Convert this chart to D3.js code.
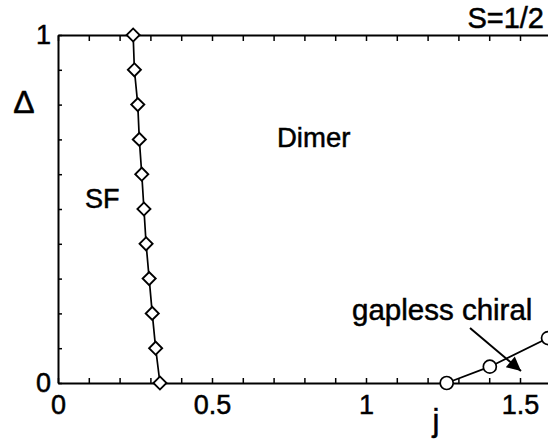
<!DOCTYPE html>
<html>
<head>
<meta charset="utf-8">
<script src="https://cdn.jsdelivr.net/npm/d3@7"></script>
<style>
  html, body { margin: 0; padding: 0; background: #fff; }
  svg { display: block; }
  text { font-family: "Liberation Sans", Arial, Helvetica, sans-serif; fill: #000; stroke: #000; stroke-width: 0.5px; }
</style>
</head>
<body>
<svg id="chart" width="548" height="447"></svg>
<script>
// ---- data ----
const sfDelta = [1.0, 0.9, 0.8, 0.7, 0.6, 0.5, 0.4, 0.3, 0.2, 0.1, 0.0];
const sfJ     = [0.244, 0.248, 0.259, 0.264, 0.272, 0.279, 0.286, 0.296, 0.306, 0.317, 0.331];
const chiralJ     = [1.262, 1.402, 1.591];
const chiralDelta = [0.0, 0.047, 0.129];
const xTickLabels = [0, 0.5, 1, 1.5];
const yTickLabels = [0, 1];
const xMinorTicks = d3.range(0, 21).map(i => i / 10);
const yMinorTicks = d3.range(0, 11).map(i => i / 10);

// ---- layout ----
const svg = d3.select("#chart");
const x = d3.scaleLinear().domain([0, 2]).range([58, 674]);
const y = d3.scaleLinear().domain([0, 1]).range([383, 35]);

function styleAxis(g) {
  g.select(".domain").attr("stroke", "#000").attr("stroke-width", 2);
  g.selectAll(".tick line").attr("stroke", "#000").attr("stroke-width", 1.5);
}

// bottom axis ticks (inward)
svg.append("g").attr("transform", `translate(0,${y(0)})`)
  .call(d3.axisBottom(x).tickValues(xMinorTicks).tickSize(-5).tickSizeOuter(0).tickFormat(""))
  .call(styleAxis);
// top axis ticks (inward)
svg.append("g").attr("transform", `translate(0,${y(1)})`)
  .call(d3.axisTop(x).tickValues(xMinorTicks).tickSize(-6).tickSizeOuter(0).tickFormat(""))
  .call(styleAxis);
// left axis ticks (inward)
svg.append("g").attr("transform", `translate(${x(0)},0)`)
  .call(d3.axisLeft(y).tickValues(yMinorTicks).tickSize(-4).tickSizeOuter(0).tickFormat(""))
  .call(styleAxis);

const labelFont = g => g.selectAll("text")
  .attr("font-size", 27)
  .style("font-family", "'Liberation Sans', Arial, sans-serif")
  .attr("fill", "#000").attr("stroke", "#000").attr("stroke-width", 0.5);

// x tick labels
svg.append("g").attr("transform", `translate(0,${y(0)})`)
  .call(d3.axisBottom(x).tickValues(xTickLabels).tickSize(0).tickPadding(12)
        .tickFormat(d => String(d)))
  .call(g => g.select(".domain").remove())
  .call(labelFont);

// y tick labels
svg.append("g").attr("transform", `translate(${x(0)},0)`)
  .call(d3.axisLeft(y).tickValues(yTickLabels).tickSize(0).tickPadding(7).tickFormat(d3.format("d")))
  .call(g => g.select(".domain").remove())
  .call(labelFont);

// SF boundary line with diamonds
const sfPts = sfJ.map((j, i) => [j, sfDelta[i]]);
svg.append("path")
  .datum(sfPts)
  .attr("fill", "none").attr("stroke", "#000").attr("stroke-width", 1.7)
  .attr("d", d3.line().x(d => x(d[0])).y(d => y(d[1])));
svg.append("g").selectAll("path").data(sfPts).join("path")
  .attr("transform", d => `translate(${x(d[0])},${y(d[1])}) rotate(45)`)
  .attr("d", d3.symbol(d3.symbolSquare, 85))
  .attr("fill", "#fff").attr("stroke", "#000").attr("stroke-width", 1.9);

// gapless chiral boundary with circles
const chPts = chiralJ.map((j, i) => [j, chiralDelta[i]]);
svg.append("path")
  .datum(chPts)
  .attr("fill", "none").attr("stroke", "#000").attr("stroke-width", 1.7)
  .attr("d", d3.line().x(d => x(d[0])).y(d => y(d[1])));
svg.append("g").selectAll("circle").data(chPts).join("circle")
  .attr("cx", d => x(d[0])).attr("cy", d => y(d[1])).attr("r", 6.5)
  .attr("fill", "#fff").attr("stroke", "#000").attr("stroke-width", 1.7);

// arrow
svg.append("defs").append("marker")
  .attr("id", "ah").attr("viewBox", "0 0 10 10").attr("refX", 10).attr("refY", 5)
  .attr("markerWidth", 18).attr("markerHeight", 14).attr("markerUnits", "userSpaceOnUse")
  .attr("orient", "auto")
  .append("path").attr("d", "M0,0 L10,5 L0,10 Z").attr("fill", "#000");
svg.append("line")
  .attr("x1", 470).attr("y1", 328).attr("x2", 521).attr("y2", 371)
  .attr("stroke", "#000").attr("stroke-width", 2).attr("marker-end", "url(#ah)");

// text labels
svg.append("text").attr("x", 277).attr("y", 147).attr("font-size", 27.5).text("Dimer");
svg.append("text").attr("x", 85).attr("y", 208).attr("font-size", 27).text("SF");
svg.append("text").attr("x", 352).attr("y", 320).attr("font-size", 29.5).text("gapless chiral");
svg.append("text").attr("x", 544).attr("y", 28).attr("font-size", 29).attr("text-anchor", "end").text("S=1/2");
svg.append("text").attr("x", 24).attr("y", 113).attr("font-size", 32).attr("text-anchor", "middle").text("Δ");
svg.append("text").attr("x", 436).attr("y", 431).attr("font-size", 31).attr("text-anchor", "middle").text("j");
</script>
</body>
</html>
